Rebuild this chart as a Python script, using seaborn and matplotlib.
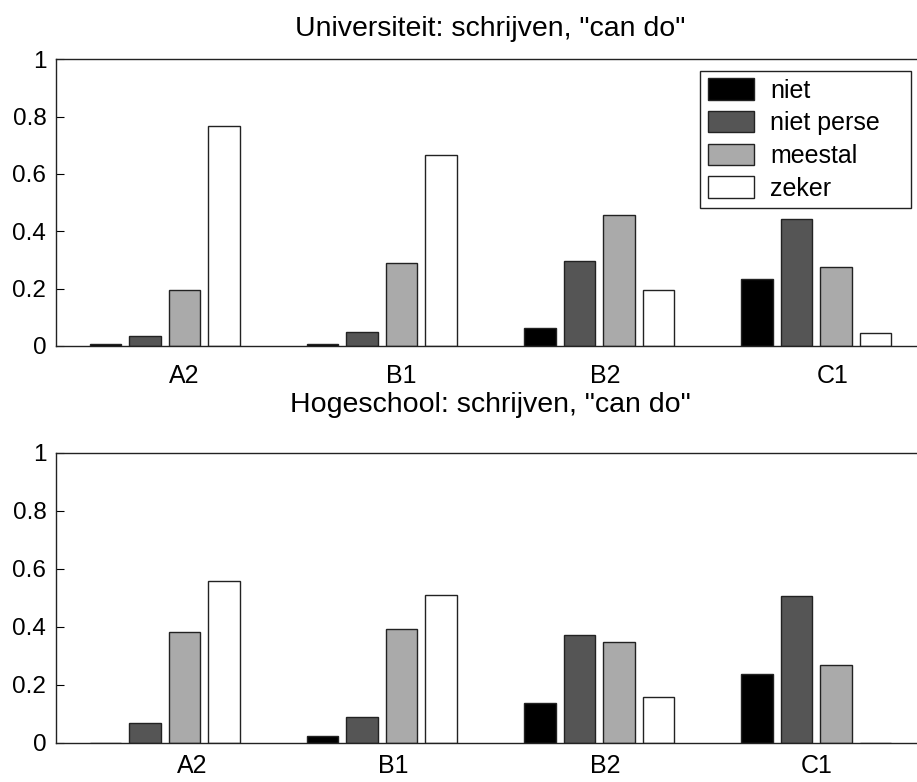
import numpy as np
import pandas as pd
import matplotlib
matplotlib.use("Agg")
import matplotlib.pyplot as plt
import matplotlib.patches as mpatches
import seaborn as sns

# ---------------- data ----------------
levels = ["A2", "B1", "B2", "C1"]
responses = ["niet", "niet perse", "meestal", "zeker"]

univ_niet = [0.007, 0.007, 0.064, 0.235]
univ_niet_perse = [0.035, 0.048, 0.298, 0.444]
univ_meestal = [0.195, 0.291, 0.458, 0.276]
univ_zeker = [0.769, 0.667, 0.194, 0.046]

hoge_niet = [0.0, 0.022, 0.138, 0.236]
hoge_niet_perse = [0.069, 0.090, 0.372, 0.505]
hoge_meestal = [0.381, 0.393, 0.346, 0.269]
hoge_zeker = [0.559, 0.510, 0.159, 0.0]

ytick_values = [0, 0.2, 0.4, 0.6, 0.8, 1.0]
ytick_labels = ["0", "0.2", "0.4", "0.6", "0.8", "1"]

title_univ = 'Universiteit: schrijven, "can do"'
title_hoge = 'Hogeschool: schrijven, "can do"'

# ---------------- style / layout ----------------
colors = ["#000000", "#555555", "#aaaaaa", "#ffffff"]
edge = "#222222"
# label offsets (data units) relative to group centres, as placed in the original
top_label_shift = [0.09, 0.089, 0.026, 0.077]
bot_label_shift = [0.126, 0.053, 0.026, 0.001]

sns.set_style("white")
plt.rcParams["font.family"] = ["Liberation Sans", "DejaVu Sans"]
plt.rcParams["text.color"] = "black"
plt.rcParams["axes.titlecolor"] = "black"


def long_df(niet, niet_perse, meestal, zeker):
    rows = []
    for series, name in zip([niet, niet_perse, meestal, zeker], responses):
        for lev, v in zip(levels, series):
            rows.append({"level": lev, "response": name, "value": v})
    return pd.DataFrame(rows)


df_univ = long_df(univ_niet, univ_niet_perse, univ_meestal, univ_zeker)
df_hoge = long_df(hoge_niet, hoge_niet_perse, hoge_meestal, hoge_zeker)

fig = plt.figure(figsize=(9.17, 7.82), dpi=100)
W, H = 917, 782
ax_top = fig.add_axes([56 / W, 1 - 346 / H, 869 / W, 286.7 / H])
ax_bot = fig.add_axes([56 / W, 1 - 742.7 / H, 869 / W, 290 / H])


def draw(ax, df, title, title_pad, shifts, label_pad):
    sns.barplot(data=df, x="level", y="value", hue="response", order=levels,
                hue_order=responses, palette=colors, width=0.727, gap=0.2,
                edgecolor=edge, linewidth=1.0, saturation=1, errorbar=None,
                legend=False, ax=ax)
    ax.set_xlim(-0.5, 3.5)
    ax.set_ylim(0, 1)
    ax.set_xlabel("")
    ax.set_ylabel("")
    ax.set_xticks([i + s for i, s in enumerate(shifts)])
    ax.set_xticklabels(levels)
    ax.set_yticks(ytick_values)
    ax.set_yticklabels(ytick_labels)
    ax.tick_params(axis="x", length=0, pad=label_pad, labelsize=18, colors="black")
    ax.tick_params(axis="y", direction="in", length=6, width=0.8, left=True,
                   right=True, labelsize=17.5, pad=7, colors="black")
    for sp in ax.spines.values():
        sp.set_visible(True)
        sp.set_color(edge)
        sp.set_linewidth(1.0)
    ax.set_title(title, fontsize=20.5, pad=title_pad, color="black")
    ax.set_facecolor("white")


draw(ax_top, df_univ, title_univ, 16.5, top_label_shift, 13)
draw(ax_bot, df_hoge, title_hoge, 29.0, bot_label_shift, 8)

handles = [mpatches.Patch(facecolor=c, edgecolor=edge, linewidth=1.0, label=r)
           for c, r in zip(colors, responses)]
leg = ax_top.legend(handles=handles, loc="upper right",
                    bbox_to_anchor=((700 - 56) / 869, 0, 210.7 / 869, 0.960),
                    mode="expand", borderaxespad=0, fontsize=18,
                    handlelength=1.85, handleheight=0.95, handletextpad=0.65,
                    labelspacing=0.33, borderpad=0.3, frameon=True,
                    fancybox=False, framealpha=1, edgecolor=edge)
leg.get_frame().set_linewidth(1.0)
for t in leg.get_texts():
    t.set_color("black")

fig.savefig("out.png", dpi=100, facecolor="white")
